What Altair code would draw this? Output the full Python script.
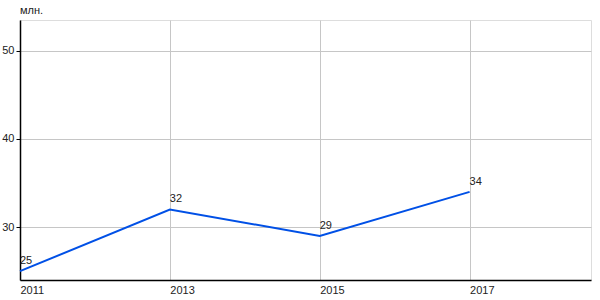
import altair as alt
import pandas as pd

years = [2011, 2013, 2015, 2017]
values = [25, 32, 29, 34]
labels = ["25", "32", "29", "34"]

df = pd.DataFrame({"year": years, "value": values, "label": labels})

FONT = "Liberation Sans"

x = alt.X("year:Q",
          scale=alt.Scale(domain=[2011, 2018.62], nice=False, zero=False),
          axis=alt.Axis(values=years, format="d", title=None, labelAlign="left",
                        labelFont=FONT, labelFontSize=11, labelColor="#222",
                        ticks=False, labelPadding=4, domainColor="#000",
                        domainWidth=1.5, gridColor="#c6c6c6", gridWidth=1,
                        labelFlush=False))
y = alt.Y("value:Q",
          scale=alt.Scale(domain=[24, 53.5], nice=False, zero=False),
          axis=alt.Axis(values=[30, 40, 50], title=None, labelFont=FONT,
                        labelFontSize=11, labelColor="#222", tickSize=4,
                        tickColor="#000", labelPadding=2, domainColor="#000",
                        domainWidth=1.5, gridColor="#c6c6c6", gridWidth=1,
                        labelFlush=False))

line = alt.Chart(df).mark_line(color="#0050e6", strokeWidth=2).encode(x=x, y=y)
text = alt.Chart(df).mark_text(align="left", baseline="bottom", dy=-5, dx=0,
                               font=FONT, fontSize=11, color="#222").encode(
    x="year:Q", y="value:Q", text="label:N")

chart = (line + text).properties(
    width=571, height=260,
    autosize=alt.AutoSizeParams(type="none"),
    padding={"left": 20, "top": 20, "right": 9, "bottom": 20},
    title=alt.TitleParams("млн.", anchor="start", frame="group", font=FONT,
                          fontSize=11, fontWeight="normal", color="#222",
                          offset=4),
).configure_view(fill="#e9e9e9", stroke=None).configure(background="white")

chart.save("out.html", embed_options={"renderer": "svg", "actions": False})
